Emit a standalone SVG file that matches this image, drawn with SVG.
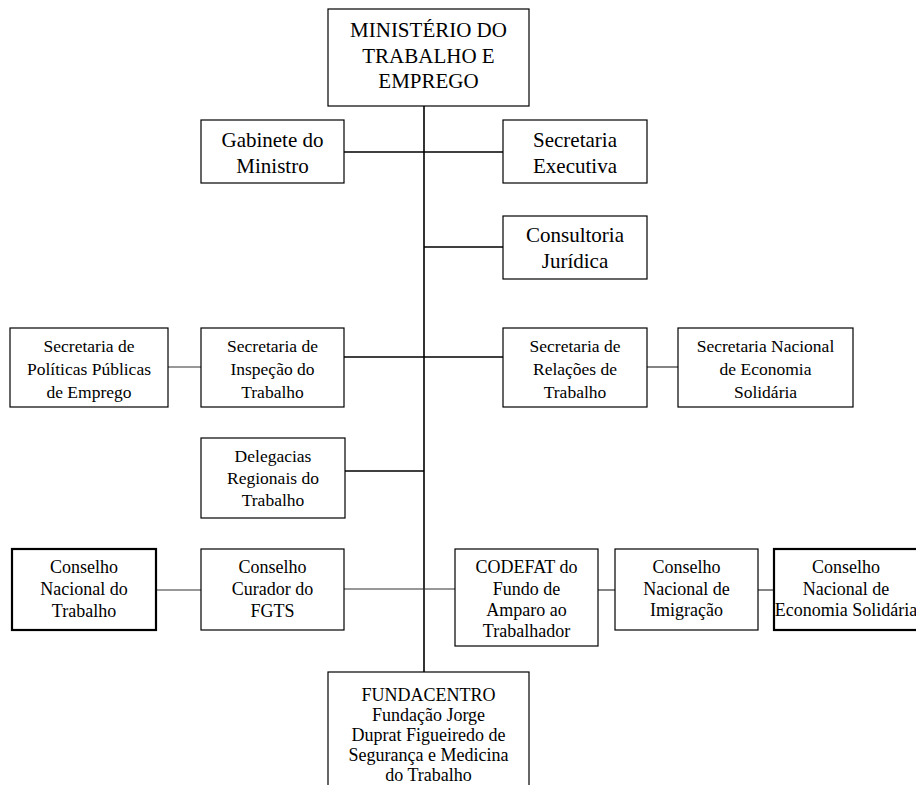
<svg xmlns="http://www.w3.org/2000/svg" width="916" height="785" viewBox="0 0 916 785">
<style>
.box{fill:#fff;stroke:#000;stroke-width:1.2}
.thick{fill:#fff;stroke:#000;stroke-width:2.2}
.t{font-family:"Liberation Serif","Times New Roman",serif;fill:#000;text-anchor:middle}
.l{font-size:21px}
.s{font-size:17.5px}
.m{font-size:18px}
.c{stroke:#000;stroke-width:1.6;fill:none}
.c2{stroke:#333;stroke-width:1.2;fill:none}
</style>
<rect width="916" height="785" fill="#fff"/>
<g id="connectors">
<line class="c" x1="424" y1="106" x2="424" y2="672"/>
<line class="c" x1="344" y1="152" x2="503" y2="152"/>
<line class="c" x1="424" y1="247" x2="503" y2="247"/>
<line class="c" x1="344" y1="357" x2="503" y2="357"/>
<line class="c2" x1="168" y1="367" x2="201" y2="367"/>
<line class="c2" x1="647" y1="367" x2="678" y2="367"/>
<line class="c" x1="345" y1="471" x2="424" y2="471"/>
<line class="c2" x1="344" y1="589" x2="455" y2="589"/>
<line class="c2" x1="156" y1="590" x2="201" y2="590"/>
<line class="c2" x1="598" y1="590" x2="615" y2="590"/>
<line class="c2" x1="758" y1="590" x2="774" y2="590"/>
</g>
<g id="ministerio">
<rect class="box" x="328" y="9" width="201" height="97"/>
<text class="t l" x="428.5" y="37">MINISTÉRIO DO</text>
<text class="t l" x="428.5" y="63">TRABALHO E</text>
<text class="t l" x="428.5" y="88">EMPREGO</text>
</g>
<g id="gabinete">
<rect class="box" x="201" y="120" width="143" height="63"/>
<text class="t l" x="272.5" y="147">Gabinete do</text>
<text class="t l" x="272.5" y="173">Ministro</text>
</g>
<g id="executiva">
<rect class="box" x="503" y="120" width="144" height="63"/>
<text class="t l" x="575" y="147">Secretaria</text>
<text class="t l" x="575" y="173">Executiva</text>
</g>
<g id="consultoria">
<rect class="box" x="503" y="216" width="144" height="63"/>
<text class="t l" x="575" y="242">Consultoria</text>
<text class="t l" x="575" y="268">Jurídica</text>
</g>
<g id="politicas">
<rect class="box" x="10" y="328" width="158" height="79"/>
<text class="t s" x="89" y="352">Secretaria de</text>
<text class="t s" x="89" y="375">Políticas Públicas</text>
<text class="t s" x="89" y="398">de Emprego</text>
</g>
<g id="inspecao">
<rect class="box" x="201" y="328" width="143" height="79"/>
<text class="t s" x="272.5" y="352">Secretaria de</text>
<text class="t s" x="272.5" y="375">Inspeção do</text>
<text class="t s" x="272.5" y="398">Trabalho</text>
</g>
<g id="relacoes">
<rect class="box" x="503" y="328" width="144" height="79"/>
<text class="t s" x="575" y="352">Secretaria de</text>
<text class="t s" x="575" y="375">Relações de</text>
<text class="t s" x="575" y="398">Trabalho</text>
</g>
<g id="senaes">
<rect class="box" x="678" y="328" width="175" height="79"/>
<text class="t s" x="765.5" y="352">Secretaria Nacional</text>
<text class="t s" x="765.5" y="375">de Economia</text>
<text class="t s" x="765.5" y="398">Solidária</text>
</g>
<g id="delegacias">
<rect class="box" x="201" y="438" width="144" height="80"/>
<text class="t s" x="273" y="462">Delegacias</text>
<text class="t s" x="273" y="484">Regionais do</text>
<text class="t s" x="273" y="506">Trabalho</text>
</g>
<g id="cnt">
<rect class="thick" x="12" y="549" width="144" height="81"/>
<text class="t m" x="84" y="573">Conselho</text>
<text class="t m" x="84" y="595">Nacional do</text>
<text class="t m" x="84" y="617">Trabalho</text>
</g>
<g id="curador">
<rect class="box" x="201" y="549" width="143" height="81"/>
<text class="t m" x="272.5" y="573">Conselho</text>
<text class="t m" x="272.5" y="595">Curador do</text>
<text class="t m" x="272.5" y="617">FGTS</text>
</g>
<g id="codefat">
<rect class="box" x="455" y="549" width="143" height="97"/>
<text class="t m" x="526.5" y="573">CODEFAT do</text>
<text class="t m" x="526.5" y="595">Fundo de</text>
<text class="t m" x="526.5" y="616">Amparo ao</text>
<text class="t m" x="526.5" y="637">Trabalhador</text>
</g>
<g id="imigracao">
<rect class="box" x="615" y="549" width="143" height="81"/>
<text class="t m" x="686.5" y="573">Conselho</text>
<text class="t m" x="686.5" y="595">Nacional de</text>
<text class="t m" x="686.5" y="616">Imigração</text>
</g>
<g id="cnes">
<rect class="thick" x="774" y="549" width="146" height="81"/>
<text class="t m" x="846" y="573">Conselho</text>
<text class="t m" x="846" y="595">Nacional de</text>
<text class="t m" x="846" y="616">Economia Solidária</text>
</g>
<g id="fundacentro">
<rect class="box" x="328" y="672" width="201" height="130"/>
<text class="t m" x="428.5" y="701">FUNDACENTRO</text>
<text class="t m" x="428.5" y="721">Fundação Jorge</text>
<text class="t m" x="428.5" y="741">Duprat Figueiredo de</text>
<text class="t m" x="428.5" y="761">Segurança e Medicina</text>
<text class="t m" x="428.5" y="781">do Trabalho</text>
</g>
</svg>
